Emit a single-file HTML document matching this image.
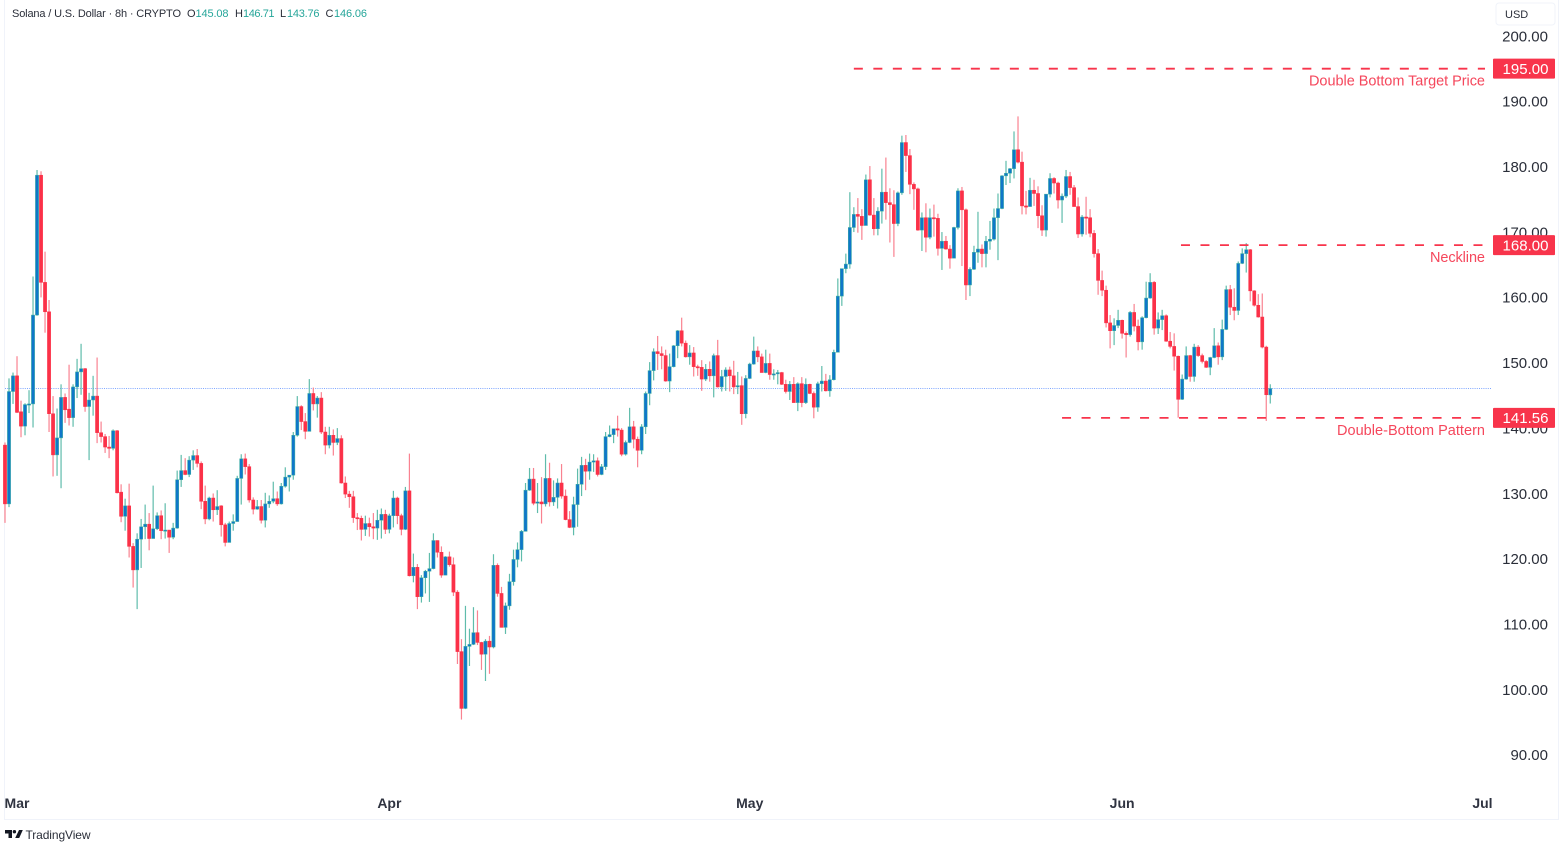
<!DOCTYPE html>
<html lang="en">
<head>
<meta charset="utf-8">
<title>Solana / U.S. Dollar 8h chart</title>
<style>
html,body{margin:0;padding:0;background:#fff;width:1566px;height:846px;overflow:hidden}
svg{display:block;font-family:"Liberation Sans",sans-serif;filter:blur(0.35px)}
</style>
</head>
<body>
<svg id="chart" xmlns="http://www.w3.org/2000/svg" width="1566" height="846" viewBox="0 0 1566 846">
  <rect x="0" y="0" width="1566" height="846" fill="#ffffff"/>
  <path d="M4.5 0V819.5H1558.5V0" fill="none" stroke="#f0f3fa" stroke-width="1"/>
  <g id="current-price-layer"></g>
  <g id="candles"></g>
  <g id="levels"></g>
  <g id="price-axis"></g>
  <g id="time-axis"></g>
  <g id="tags"></g>

  <g font-size="11">
    <text x="12" y="17" fill="#2a2e39" textLength="169" lengthAdjust="spacing">Solana / U.S. Dollar · 8h · CRYPTO</text>
    <text x="187" y="17" fill="#2a2e39">O</text>
    <text x="195.5" y="17" fill="#26a69a" textLength="33" lengthAdjust="spacing">145.08</text>
    <text x="235" y="17" fill="#2a2e39">H</text>
    <text x="243" y="17" fill="#26a69a" textLength="31.5" lengthAdjust="spacing">146.71</text>
    <text x="280" y="17" fill="#2a2e39">L</text>
    <text x="287" y="17" fill="#26a69a" textLength="32.5" lengthAdjust="spacing">143.76</text>
    <text x="325.5" y="17" fill="#2a2e39">C</text>
    <text x="334" y="17" fill="#26a69a" textLength="33" lengthAdjust="spacing">146.06</text>
  </g>

  <g>
    <rect x="1496" y="3" width="59" height="22" rx="3" fill="#ffffff" stroke="#f0f3fa"/>
    <text x="1505" y="18" font-size="11" fill="#2a2e39">USD</text>
  </g>

  <g>
    <path d="M5 830H12V838H8.5V833.5H5ZM19 830H22.8L19.2 838H15.2Z" fill="#131722"/>
    <circle cx="14.4" cy="831.7" r="1.7" fill="#131722"/>
    <text x="25.5" y="839" font-size="12" fill="#2a2e39" textLength="65" lengthAdjust="spacing">TradingView</text>
  </g>
</svg>
<script>
const opens = [137.4,128.4,145.6,148.0,142.5,140.3,143.6,143.7,157.3,178.7,
162.3,157.8,142.2,135.9,138.5,144.7,142.9,141.6,146.3,148.6,
149.1,143.3,144.3,144.9,139.3,138.7,137.1,136.9,139.6,130.2,
126.5,128.1,121.9,118.3,123.0,124.9,125.3,123.1,124.6,126.6,
124.3,124.4,123.3,124.7,132.1,133.5,132.9,135.1,135.8,134.6,
128.8,126.1,129.3,127.5,128.1,125.2,122.5,125.4,125.7,132.3,
135.3,134.1,129.0,127.6,128.0,125.9,128.4,128.8,129.2,128.4,
131.1,132.5,132.8,138.9,143.3,141.0,139.5,145.3,143.7,144.6,
139.4,137.4,138.9,137.8,138.4,131.6,129.9,129.5,126.3,126.2,
124.5,125.4,124.9,124.7,125.9,126.8,124.5,126.6,129.3,126.6,
124.5,130.4,117.4,118.7,114.2,117.1,118.1,118.5,122.8,121.0,
117.5,120.3,119.1,114.9,105.8,97.1,106.6,106.9,108.7,107.2,
105.4,107.4,106.5,119.0,114.7,109.5,112.8,116.5,119.9,121.4,
124.2,130.5,132.2,128.5,128.7,128.4,132.3,128.7,129.4,131.6,
129.6,126.0,124.8,128.3,131.4,134.3,133.4,134.8,135.0,132.9,
134.1,138.7,139.0,139.9,139.7,136.0,137.8,140.2,138.3,136.6,
140.2,145.3,148.8,151.7,151.4,151.1,147.2,149.4,152.6,154.9,
153.0,150.9,151.5,149.4,149.3,147.5,149.0,148.0,151.1,146.3,
147.9,148.9,148.0,146.3,146.5,142.2,147.6,149.8,151.8,150.9,
148.5,149.9,148.2,148.3,148.5,146.7,145.6,146.7,143.9,146.8,
143.9,146.7,145.3,143.2,146.8,147.2,145.7,147.4,151.6,160.2,
164.4,165.1,170.7,172.7,172.4,171.0,178.0,172.6,170.5,173.2,
176.1,174.5,174.2,171.3,176.0,183.7,181.7,177.3,176.6,170.3,
172.2,169.2,172.2,172.1,167.5,168.6,167.4,166.0,170.7,176.3,
173.4,161.9,164.3,166.9,167.4,166.7,168.6,168.9,172.2,173.6,
178.6,179.0,179.7,182.6,180.7,174.0,173.9,176.4,175.9,172.5,
170.3,175.8,178.2,177.5,174.9,175.5,178.5,176.8,173.9,169.7,
172.3,172.2,169.8,166.7,162.6,161.1,156.1,154.9,155.7,156.5,
154.5,154.3,157.7,155.6,153.2,156.9,159.9,162.3,155.3,156.6,
157.2,153.3,152.5,151.0,144.4,147.5,151.1,147.9,152.4,151.1,
150.2,149.3,150.8,152.6,150.9,155.1,161.2,158.5,158.0,165.2,
166.7,167.3,161.0,158.8,157.0,152.4,145.08];

const highs = [137.8,147.6,148.5,151.0,144.2,143.8,145.8,163.2,179.5,179.3,
167.0,159.6,144.9,143.0,146.7,145.3,149.7,146.7,150.6,152.9,
149.2,145.4,148.0,150.8,141.0,139.1,138.8,139.8,139.7,131.4,
129.2,131.5,122.4,123.9,126.1,128.3,127.0,131.2,127.1,127.4,
128.5,124.4,125.5,133.5,135.9,135.4,135.7,136.6,136.8,134.9,
131.2,129.5,130.0,130.5,128.2,125.5,125.7,126.8,132.7,136.0,
136.1,134.5,129.4,129.0,129.0,130.1,129.7,131.8,130.3,131.6,
134.0,132.8,139.4,144.9,143.5,142.3,147.5,146.2,144.9,145.5,
140.2,140.2,139.8,140.0,138.9,132.6,130.4,130.4,127.0,126.6,
126.6,126.3,127.0,127.5,127.7,127.5,126.9,130.4,129.5,126.9,
131.0,136.1,120.8,119.2,117.5,118.3,120.9,123.9,122.8,121.9,
120.4,121.1,120.2,115.2,107.7,112.8,109.3,112.6,112.1,107.3,
107.7,108.2,120.7,119.3,115.7,113.3,117.7,121.4,122.5,124.4,
131.6,133.9,133.9,131.6,132.5,136.0,134.7,132.0,132.3,134.5,
130.6,127.3,129.5,133.8,135.6,135.3,136.1,136.0,135.5,134.5,
139.4,140.4,139.9,141.9,140.0,138.1,143.1,141.1,138.7,140.6,
145.6,150.1,152.2,154.1,152.5,152.0,151.4,152.7,155.0,156.9,
153.4,152.7,152.4,149.7,150.4,149.8,150.2,151.4,153.5,148.9,
149.3,149.4,150.3,148.6,147.9,148.1,150.0,154.0,152.5,151.4,
152.0,151.4,149.0,148.9,148.6,147.4,147.2,147.8,147.0,147.8,
147.6,146.8,145.6,147.1,149.5,148.3,148.1,152.0,162.9,164.4,
166.7,176.1,173.8,175.2,173.5,178.8,180.1,175.2,173.8,179.7,
181.4,176.7,176.4,176.2,184.75,184.85,182.7,177.6,176.8,173.0,
174.4,173.6,174.2,172.8,170.0,169.4,168.0,170.8,176.7,176.9,
173.6,164.6,167.9,173.1,168.1,169.4,171.7,173.6,175.9,178.7,
180.9,179.8,185.4,187.7,182.3,176.3,178.3,178.0,177.0,174.1,
175.8,179.0,178.4,177.7,175.9,179.5,179.2,177.2,175.3,172.6,
175.4,173.5,170.3,167.4,164.1,161.8,157.3,156.8,158.1,156.6,
154.8,157.9,159.0,156.6,157.1,162.4,163.7,162.5,157.7,158.1,
157.4,154.7,154.5,151.1,148.2,152.5,151.2,152.9,152.7,151.4,
150.4,150.9,155.3,153.1,156.6,161.8,161.9,161.4,165.5,167.5,
168.3,167.4,161.1,160.5,160.6,152.6,146.71];

const lows = [125.5,127.9,143.7,142.3,138.6,138.9,142.3,140.1,157.2,160.0,
154.6,139.4,132.6,132.7,130.8,140.8,140.4,140.2,144.6,145.1,
142.5,135.1,141.9,137.7,137.8,136.2,135.4,136.6,130.0,125.6,
124.3,120.2,115.6,112.3,118.6,123.0,121.3,123.1,124.4,123.0,
123.1,120.9,123.0,124.6,131.0,132.8,132.5,133.6,134.0,127.6,
125.3,125.9,125.7,126.7,123.4,121.9,122.5,124.3,125.7,128.3,
132.9,128.6,126.8,127.5,125.4,124.8,127.8,128.5,128.1,128.3,
130.9,130.3,132.1,138.7,139.7,138.3,139.5,142.7,141.6,139.1,
136.0,136.9,135.8,137.4,131.5,129.3,127.8,125.5,124.4,122.8,
123.5,123.4,123.0,122.9,123.1,123.8,123.9,124.8,125.3,123.6,
124.4,117.3,116.4,112.3,113.3,114.7,113.4,118.4,120.2,117.1,
117.5,118.8,114.3,103.9,95.4,97.0,103.6,106.8,106.8,103.0,
101.3,102.4,106.3,114.2,109.5,108.5,112.2,115.9,118.7,119.6,
124.2,130.4,128.2,127.0,125.4,128.0,128.0,128.1,127.7,129.2,
125.9,124.7,123.6,124.9,129.6,130.5,132.1,133.3,132.6,132.8,
133.6,138.6,137.7,138.7,135.7,135.8,137.7,136.9,134.0,136.0,
139.1,143.5,147.3,148.9,149.0,147.1,145.5,149.3,150.7,152.5,
150.8,149.7,147.9,148.0,145.7,147.2,147.1,144.7,146.2,145.6,
145.7,145.6,145.2,145.2,140.5,141.5,147.5,149.7,150.1,148.5,
148.4,147.4,147.4,146.7,146.6,145.3,144.3,143.9,142.6,143.2,
143.7,145.2,141.5,142.5,145.6,145.6,144.8,147.3,151.6,158.7,
163.7,164.4,170.0,169.9,168.8,171.0,172.5,169.5,169.5,171.3,
171.9,168.4,166.2,170.9,175.7,179.2,175.8,173.4,170.2,167.1,
166.9,168.9,169.3,166.4,164.2,167.3,164.4,166.0,170.4,164.8,
159.6,160.2,164.2,165.3,164.6,164.6,167.3,168.7,165.7,173.5,
177.2,177.5,178.2,180.5,172.7,172.7,173.9,174.0,170.6,169.4,
169.3,175.3,175.9,173.6,171.4,175.2,175.7,173.9,169.1,169.3,
169.6,169.2,166.1,160.4,160.2,155.4,152.2,152.7,155.3,153.7,
150.8,154.0,154.8,151.9,152.0,156.8,159.8,154.3,154.4,155.0,
153.2,152.2,148.8,141.6,144.3,147.4,147.1,147.1,150.9,149.9,
149.2,148.1,150.7,149.7,150.4,155.0,157.3,156.5,157.3,165.1,
163.8,159.4,158.6,156.9,152.2,141.1,143.76];

const closes = [128.4,145.6,148.0,142.4,140.3,143.6,143.7,157.3,178.7,162.3,
157.8,142.2,135.9,138.5,144.7,142.8,141.6,146.3,148.6,149.1,
143.3,144.3,144.9,139.3,138.7,137.1,136.9,139.6,130.1,126.5,
128.1,121.9,118.3,123.0,124.9,125.3,123.1,124.6,126.6,124.3,
124.4,123.3,124.7,132.1,133.5,132.9,135.1,135.8,134.6,128.8,
126.1,129.3,127.5,128.0,125.2,122.5,125.4,125.7,132.3,135.3,
134.1,129.0,127.6,128.0,125.9,128.4,128.8,129.2,128.4,131.1,
132.5,132.8,138.9,143.3,141.0,139.5,145.3,143.7,144.6,139.4,
137.4,138.9,137.8,138.4,131.6,129.9,129.5,126.3,126.2,124.5,
125.4,124.9,124.7,125.9,126.8,124.5,126.6,129.3,126.6,124.5,
130.4,117.4,118.7,114.2,117.1,118.1,118.5,122.8,121.0,117.5,
120.3,119.1,114.9,105.8,97.1,106.6,106.9,108.7,107.2,105.4,
107.4,106.5,119.0,114.7,109.5,112.8,116.5,119.9,121.4,124.2,
130.5,132.2,128.5,128.7,128.4,132.3,128.7,129.4,131.6,129.6,
126.0,124.8,128.3,131.4,134.3,133.4,134.8,135.0,132.9,134.1,
138.7,139.0,139.9,139.7,136.0,137.8,140.2,138.3,136.6,140.2,
145.3,148.8,151.7,151.4,151.1,147.2,149.4,152.6,154.9,153.0,
150.9,151.5,149.4,149.3,147.5,149.0,148.0,151.1,146.3,147.9,
148.9,148.0,146.3,146.5,142.2,147.6,149.8,151.8,150.9,148.5,
149.9,148.2,148.3,148.5,146.7,145.6,146.7,143.9,146.8,143.9,
146.7,145.3,143.2,146.8,147.2,145.7,147.4,151.6,160.2,164.4,
165.1,170.7,172.7,172.4,171.0,178.0,172.6,170.5,173.2,176.1,
174.5,174.2,171.3,176.0,183.7,181.7,177.3,176.6,170.3,172.2,
169.2,172.2,172.1,167.5,168.6,167.4,166.0,170.7,176.3,173.4,
161.9,164.3,166.9,167.4,166.7,168.6,168.9,172.2,173.6,178.6,
179.0,179.7,182.6,180.7,174.0,173.9,176.4,175.9,172.5,170.3,
175.8,178.2,177.5,174.9,175.5,178.5,176.8,173.9,169.7,172.3,
172.2,169.8,166.7,162.6,161.1,156.1,154.9,155.7,156.5,154.5,
154.3,157.7,155.6,153.2,156.9,159.9,162.3,155.3,156.6,157.2,
153.3,152.5,151.0,144.4,147.5,151.1,147.9,152.4,151.1,150.2,
149.3,150.8,152.6,150.9,155.1,161.2,158.5,158.0,165.2,166.7,
167.3,161.0,158.8,157.0,152.4,145.1,146.06];

const priceTicks = [200,190,180,170,160,150,140,130,120,110,100,90];
const monthLabels = ['Mar','Apr','May','Jun','Jul'];
const monthBars = [3,96,186,279,369];
const levelPrices = [195,168,141.56];
const levelStartBars = [212,293.7,264];
const levelNames = ['Double Bottom Target Price','Neckline','Double-Bottom Pattern'];
const levelLabelWidths = [176,55,148];
const lastPrice = 146.06;

const SVGNS = 'http://www.w3.org/2000/svg';
function xScale(bar){ return 5 + 4.004 * bar; }
function yScale(price){ return 36 + (200 - price) * 6.535; }
function make(tag, parent, attrs){
  const el = document.createElementNS(SVGNS, tag);
  for (const k in attrs) el.setAttribute(k, attrs[k]);
  parent.appendChild(el);
  return el;
}

const priceLayer = document.getElementById('current-price-layer');
const lastLine = make('line', priceLayer, {x1:5, x2:1491, y1:yScale(lastPrice), y2:yScale(lastPrice), stroke:'#7ea6ff', 'stroke-width':1, 'stroke-dasharray':'1 1.2'});



const candleLayer = document.getElementById('candles');
opens.forEach(function(open, i){
  const up = closes[i] >= open;
  const x = xScale(i);
  const g = make('g', candleLayer, {});
  
  
  const wick = make('line', g, {x1:x, x2:x, y1:yScale(highs[i]), y2:yScale(lows[i]), stroke: up ? '#5fbcab' : '#f98290', 'stroke-width':1.2});
  
  
  const top = yScale(Math.max(open, closes[i]));
  const bottom = yScale(Math.min(open, closes[i]));
  const body = make('rect', g, {x:x-1.6, y:top, width:3.2, height:Math.max(bottom-top, 1.2), fill: up ? '#0f77c9' : '#fb3148', stroke: up ? '#3fb0a0' : '#fb3148', 'stroke-width':0.5});
  
  
});

const axisLayer = document.getElementById('price-axis');
priceTicks.forEach(function(tick){
  const t = make('text', axisLayer, {x:1548, y:yScale(tick)+5.3, 'text-anchor':'end', 'font-size':15, fill:'#2a2e39'});
  
  
  t.textContent = tick.toFixed(2);
});

const timeLayer = document.getElementById('time-axis');
monthLabels.forEach(function(label, i){
  const t = make('text', timeLayer, {x:xScale(monthBars[i]), y:808, 'text-anchor':'middle', 'font-size':14, 'font-weight':'bold', fill:'#2f3340'});
  
  
  t.textContent = label;
});

const levelLayer = document.getElementById('levels');
const tagLayer = document.getElementById('tags');
levelPrices.forEach(function(price, i){
  const y = yScale(price);
  const line = make('line', levelLayer, {x1:xScale(levelStartBars[i]), x2:1485, y1:y, y2:y, stroke:'#f8344b', 'stroke-width':1.8, 'stroke-dasharray':'9 10.5'});
  
  
  const label = make('text', levelLayer, {x:1485, y:y+17, 'text-anchor':'end', 'font-size':14.5, fill:'#f5475c', textLength:levelLabelWidths[i], lengthAdjust:'spacing'});
  
  
  label.textContent = levelNames[i];
  const tag = make('rect', tagLayer, {x:1493, y:y-10, width:62, height:20, fill:'#f8344b', rx:1});
  
  
  const tagText = make('text', tagLayer, {x:1525.5, y:y+5.3, 'text-anchor':'middle', 'font-size':15, fill:'#ffffff'});
  
  
  tagText.textContent = price.toFixed(2);
});
</script>
</body>
</html>
